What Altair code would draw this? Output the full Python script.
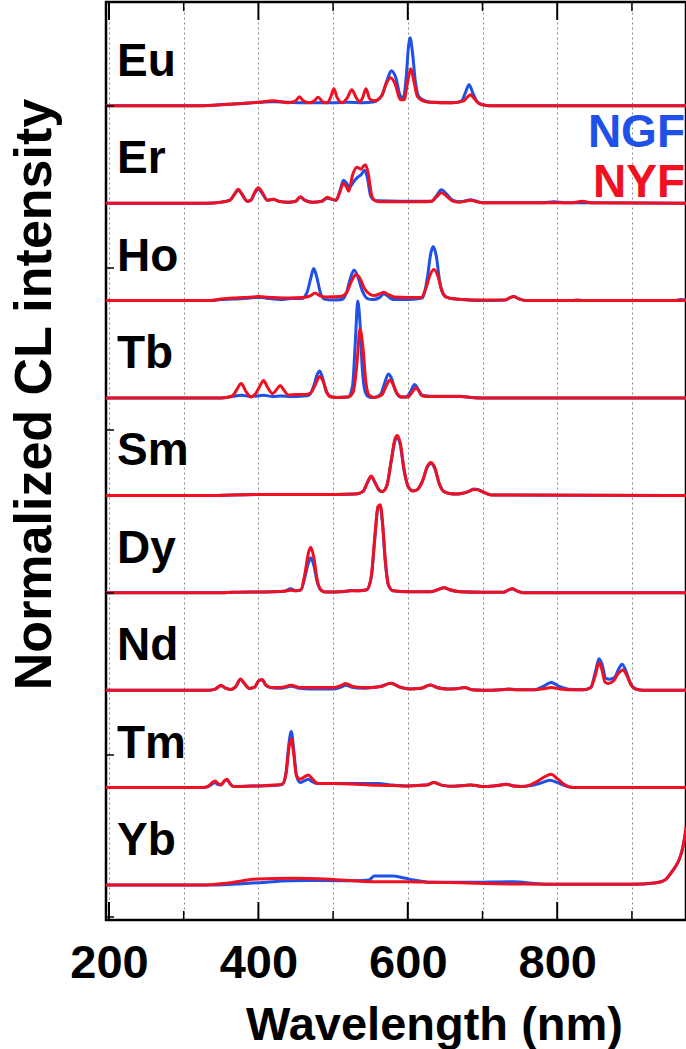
import altair as alt
import pandas as pd

ELEMENTS = ["Eu", "Er", "Ho", "Tb", "Sm", "Dy", "Nd", "Tm", "Yb"]
SERIES = ["NGF", "NYF"]
X_GRID = [200, 300, 400, 500, 600, 700, 800, 900]
X_TICKS_MAJOR = [200, 400, 600, 800]
X_TICKS_MINOR = [300, 500, 700, 900]
Y_TICKS = [779, 617, 455, 292, 130, -32]
OFFSET_STEP = 97.4

EU_NGF = [(196,0),(320,0),(360,1.5),(400,3.5),(420,4),(440,3.5),(460,3),(500,3),(520,3.5),(540,3),(555,4),(565,10),(572,25),(578,35),(584,28),(590,10),(594,8),(598,30),(601,60),(603,68),(606,55),(610,25),(614,10),(620,6),(630,3.5),(660,3),(672,5),(677,13),(682,21),(687,13),(692,5),(700,1),(710,0),(972.4,0)]
EU_NYF = [(196,0),(320,0),(360,1.5),(400,3.5),(420,5),(440,3),(450,5),(455,9),(460,5),(468,3),(475,5),(480,8.5),(486,4),(492,3),(497,9),(501,17),(505,9),(512,3),(519,8),(525,16),(531,8),(536,4),(540,9),(544,17),(549,7),(555,5),(565,10),(571,22),(577,28),(583,22),(590,6),(595,6),(600,25),(604,37),(608,25),(613,9),(620,5),(630,3.5),(660,3),(675,5),(680,9),(684,11),(688,8),(694,3),(700,1),(710,0),(972.4,0)]

ER_NGF = [(196,0),(330,0),(350,1),(362,3),(368,9),(373,13),(378,9),(385,2),(390,3),(395,10),(400,14),(405,10),(412,3),(420,4),(427,2),(440,1),(450,2),(456,6),(462,3),(472,1),(485,2),(492,5),(498,4),(504,3),(509,12),(514,23),(518,20),(522,16),(528,22),(533,26),(538,29),(542,33),(546,25),(550,8),(554,3.5),(560,2.5),(620,2),(632,2),(638,7),(645,13.5),(652,9),(660,3),(668,1.5),(676,2),(684,3.5),(692,2),(700,0.5),(780,0.5),(796,1.5),(810,0.5),(972.4,0)]
ER_NYF = [(196,0),(330,0),(350,1),(362,3),(368,9),(373,14),(378,9),(385,2),(390,3),(395,11),(400,15.5),(405,11),(412,3),(420,4),(427,2),(440,1),(450,2),(456,6.5),(462,3),(472,1),(485,2),(492,6),(498,4),(504,3),(509,11),(514,20),(518,16),(521,12),(526,28),(532,36),(537,34),(543,38.5),(547,30),(551,10),(555,3),(560,1.5),(620,1.5),(632,2),(638,6),(645,10.5),(652,7),(660,2),(668,1),(676,2),(685,3),(692,1.5),(700,0.5),(780,0.5),(820,0.5),(834,2),(845,0.5),(972.4,0)]

HO_NGF = [(196,0),(335,0),(350,1),(365,1.5),(380,2),(395,3),(405,3),(415,2),(430,1),(445,2),(458,2),(465,8),(470,22),(474,32),(478,24),(483,8),(488,1.5),(500,0.5),(512,1),(518,8),(523,22),(528,30.5),(533,24),(539,10),(546,2),(553,1),(562,3),(568,6.5),(574,4),(580,1),(600,1),(615,2),(620,3),(626,22),(631,48),(634,54),(638,45),(643,18),(648,6),(655,2.5),(665,1.5),(680,0.5),(700,0),(730,0.5),(737,3),(742,4),(748,2),(758,0),(820,0),(827,0.7),(835,0),(955,0),(965,1),(972.4,0.5)]
HO_NYF = [(196,0),(335,0),(350,1.5),(365,2.5),(380,3),(400,4),(420,3),(440,2.5),(460,3),(470,5),(476,7.5),(482,5),(490,3.5),(510,4),(518,8),(525,20),(531,26),(536,22),(542,12),(550,6),(556,5),(563,7),(568,8.3),(574,6),(582,3.5),(600,3),(618,3),(624,12),(630,26),(635,31),(640,25),(645,11),(650,4),(660,2),(675,1),(690,0.5),(730,0.5),(737,3),(742,4),(748,2),(758,0),(972.4,0)]

TB_NGF = [(196,0),(350,0),(365,1.5),(377,2.7),(390,1.5),(407,2.7),(419,1.5),(430,2),(444,1.5),(460,2),(468,3),(474,12),(479,24),(482,27),(486,20),(491,6),(497,1.5),(505,0.5),(520,1),(526,12),(530,60),(533,97),(536,75),(539,30),(543,6),(548,1),(555,0.5),(563,3),(569,15),(574,24),(578,20),(583,8),(590,1),(598,1),(604,7),(609,13.5),(613,10),(618,3),(625,2),(640,1.7),(670,1.7),(685,0.5),(700,0),(972.4,0)]
TB_NYF = [(196,0),(350,0),(365,2),(370,7),(377,14.4),(383,7),(390,1),(396,4),(402,12),(407,17.5),(412,11),(419,4.5),(425,9),(429,12.5),(434,8),(440,3),(450,3.5),(462,3.5),(470,5),(476,13),(482,21.5),(487,16),(492,5),(497,1),(505,0.5),(520,1),(527,6),(532,35),(536,69),(540,50),(544,15),(548,3),(555,0.5),(565,3),(571,12),(576,18),(580,14),(586,4),(592,1),(600,1),(606,6),(611,10),(615,7),(620,2),(630,1.5),(670,1.5),(685,0.5),(700,0),(972.4,0)]

SM_NGF = [(196,0),(330,0),(400,1),(480,1),(530,1.5),(540,4),(546,13),(551,19),(556,13),(562,5),(566,4),(572,10),(578,35),(583,55),(586,58),(590,50),(595,25),(601,8),(607,4.5),(613,6),(620,15),(626,28),(631,32),(636,27),(642,12),(648,4),(656,2),(664,1.5),(672,2),(682,4),(688,6.5),(694,6),(702,3),(712,0.5),(972.4,0)]
SM_NYF = [(196,0),(330,0),(400,1),(480,1),(530,1.5),(540,4),(546,13),(551,19.5),(556,13),(562,5),(566,4),(572,10),(578,36),(583,57),(586,60),(590,52),(595,26),(601,8),(607,4.5),(613,6),(620,15),(626,29),(631,33),(636,28),(642,12),(648,4),(656,2),(664,1.5),(672,2),(682,4),(688,6),(694,5.5),(702,3),(712,0.5),(972.4,0)]

DY_NGF = [(196,0),(350,0),(365,0.5),(420,1),(435,1.5),(443,4),(450,2),(457,3),(462,15),(467,30),(470,35),(474,28),(479,10),(485,2),(490,0.7),(510,1),(525,2.3),(535,2),(545,3),(551,15),(556,55),(560,85),(563,87),(566,70),(570,30),(574,8),(580,2),(600,1),(630,1),(640,3),(649,5),(656,3),(670,1),(700,0.5),(728,0.5),(735,3),(740,4),(746,2),(755,0),(972.4,0)]
DY_NYF = [(196,0),(350,0),(365,0.5),(420,1),(435,1.5),(443,2.5),(450,2),(457,3),(462,18),(467,40),(470,45.6),(474,36),(479,12),(485,2),(490,0.7),(510,1),(525,2),(535,2),(545,3),(551,16),(556,58),(560,86),(563,88),(566,72),(570,32),(574,8),(580,2),(600,1),(630,1),(640,3),(649,5),(656,3),(670,1),(700,0.5),(728,0.5),(735,3),(740,4),(746,2),(755,0),(972.4,0)]

ND_NGF = [(196,0),(335,0),(342,1),(350,4.5),(356,2),(363,0.7),(370,4),(376,11),(381,7),(388,1.7),(395,3),(400,9),(405,10.5),(410,5),(417,2.5),(430,2),(444,4),(455,2),(470,1.3),(500,1.3),(510,3),(517,5),(525,3),(540,2),(552,2.7),(565,4),(577,7),(590,3),(602,1.3),(618,2),(630,5.3),(640,2.5),(653,1.3),(665,1.5),(676,2.7),(686,0.5),(700,0),(725,0.5),(735,1.2),(745,0.5),(770,0.5),(782,4),(792,7.7),(802,4),(815,1),(835,0.5),(845,3),(851,18),(856,31.5),(860,26),(865,12),(870,11),(877,13),(882,21),(887,26),(892,19),(898,7),(906,1),(915,0),(972.4,0)]
ND_NYF = [(196,0),(335,0),(342,1),(350,5),(356,2),(363,0.7),(370,4),(376,11.3),(381,7),(388,1.7),(395,3),(400,9),(405,10.7),(410,5),(417,2.7),(430,2.7),(444,5),(455,2.7),(470,2.7),(500,2.7),(510,4.5),(517,6.7),(525,4),(540,2.7),(552,2.7),(565,4),(577,7),(590,3),(602,1.3),(618,2),(630,5.3),(640,2.5),(653,1.3),(665,1.5),(676,2.7),(686,0.5),(700,0),(725,0.5),(735,1),(745,0.5),(770,0.5),(782,1.5),(792,2.7),(802,1.5),(815,0.5),(835,0.5),(845,2.5),(851,15),(856,27.7),(860,20),(864,8),(868,6.7),(875,9),(881,16),(888,20.3),(893,15),(899,5),(906,1),(915,0),(972.4,0)]

TM_NGF = [(196,0),(325,0),(333,1),(338,3.5),(342,5),(346,3),(350,2.7),(354,6),(358,7.5),(362,4),(367,1),(390,1.5),(420,2),(432,3),(437,15),(441,45),(444,56),(447,40),(451,12),(456,5),(462,7),(467,8.4),(472,6),(480,4),(500,4),(540,4),(560,4),(580,2.5),(600,1.7),(625,2.5),(635,5),(645,2.5),(662,1.3),(675,2),(685,2.7),(695,1.5),(703,1),(720,2),(732,3.3),(742,1.5),(752,1),(765,2),(778,4.5),(790,7.4),(800,5),(812,1.5),(822,0),(972.4,0)]
TM_NYF = [(196,0),(325,0),(333,1.5),(338,5),(342,6.7),(346,4),(350,2.7),(354,6.5),(358,8.3),(362,4),(367,1),(390,1.5),(420,2.5),(432,3.5),(437,14),(441,40),(444,49),(447,35),(451,12),(456,8.4),(462,11),(467,12.7),(472,9),(480,4),(500,4),(540,3),(560,2.3),(580,2),(600,1.7),(625,2.5),(635,5),(645,2.5),(662,1.3),(675,2),(685,2.7),(695,1.5),(703,1),(720,2),(732,3.3),(742,1.5),(752,1),(765,3),(775,7),(786,12),(792,13.4),(800,9),(812,2),(822,0),(972.4,0)]

YB_NGF = [(196,0),(330,0),(360,0.5),(400,2.3),(444,4.3),(480,4.5),(533,4.3),(548,5),(555,9),(565,9),(580,9),(595,7),(608,5),(631,2.7),(680,2.7),(742,3.3),(770,1.5),(790,0.7),(900,0.7),(930,2),(940,3.5),(946,6),(952,11.7),(958,18),(963,25),(967,34),(970,45),(972.4,55)]
YB_NYF = [(196,0),(330,0),(360,2),(399,6),(444,6.7),(500,5.5),(555,3.3),(600,3.3),(631,2.7),(680,2),(742,1),(790,0.7),(900,0.7),(930,2),(940,3.5),(946,6),(952,11.7),(958,18),(963,25),(967,34),(970,45),(972.4,58)]

SPECTRA = {
    ("Eu", "NGF"): EU_NGF, ("Eu", "NYF"): EU_NYF,
    ("Er", "NGF"): ER_NGF, ("Er", "NYF"): ER_NYF,
    ("Ho", "NGF"): HO_NGF, ("Ho", "NYF"): HO_NYF,
    ("Tb", "NGF"): TB_NGF, ("Tb", "NYF"): TB_NYF,
    ("Sm", "NGF"): SM_NGF, ("Sm", "NYF"): SM_NYF,
    ("Dy", "NGF"): DY_NGF, ("Dy", "NYF"): DY_NYF,
    ("Nd", "NGF"): ND_NGF, ("Nd", "NYF"): ND_NYF,
    ("Tm", "NGF"): TM_NGF, ("Tm", "NYF"): TM_NYF,
    ("Yb", "NGF"): YB_NGF, ("Yb", "NYF"): YB_NYF,
}

BLUE = "#1f50e8"
RED = "#f01020"
FONT = "Liberation Sans"

rows = []
label_rows = []
n = len(ELEMENTS)
for i, el in enumerate(ELEMENTS):
    off = (n - 1 - i) * OFFSET_STEP
    label_rows.append({"element": el, "offset": off})
    for s in SERIES:
        for k, (nm, v) in enumerate(SPECTRA[(el, s)]):
            rows.append({"element": el, "series": s, "nm": nm, "val": v, "offset": off, "order": k})
df = pd.DataFrame(rows)
labels_df = pd.DataFrame(label_rows)

W, H = 580, 918
xscale = alt.Scale(domain=[196, 972.4], nice=False, zero=False)
yscale = alt.Scale(domain=[-35, 883], nice=False, zero=False)

x_axis = alt.Axis(
    values=X_GRID, grid=True, gridColor="#8a8a8a", gridDash=[2, 3], gridWidth=1,
    ticks=False, tickSize=0, domain=False,
    labelExpr="datum.value % 200 == 0 ? datum.label : ''",
    labelFont=FONT, labelFontSize=47, labelFontWeight="bold", labelColor="black",
    labelPadding=20, labelFlush=False, labelOverlap=False,
    title="Wavelength (nm)", titleFont=FONT, titleFontSize=47, titleFontWeight="bold",
    titleColor="black", titleX=328, titleY=119, titleBaseline="alphabetic", titleAlign="center",
)
y_axis = alt.Axis(
    ticks=False, labels=False, grid=False, domain=False,
    title="Normalized CL intensity", titleFont=FONT, titleFontSize=52, titleFontWeight="bold",
    titleColor="black", titleAngle=270, titleX=-56, titleY=392, titleBaseline="alphabetic",
    titleAlign="center",
)


def X(field):
    return alt.X(field, scale=xscale, axis=x_axis)


def Y(field):
    return alt.Y(field, scale=yscale, axis=y_axis)


base = alt.Chart(df).transform_calculate(y="datum.val + datum.offset")

blue = base.transform_filter(alt.datum.series == "NGF").mark_line(
    color=BLUE, strokeWidth=3, interpolate="monotone", clip=True
).encode(x=X("nm:Q"), y=Y("y:Q"), detail="element:N", order="order:Q")
red = base.transform_filter(alt.datum.series == "NYF").mark_line(
    color=RED, strokeWidth=3, interpolate="monotone", clip=True
).encode(x=X("nm:Q"), y=Y("y:Q"), detail="element:N", order="order:Q")

labels = alt.Chart(labels_df).mark_text(
    font=FONT, fontSize=46, fontWeight="bold", align="left", baseline="alphabetic",
    dy=-30, color="black",
).encode(x=alt.value(11), y=Y("offset:Q"), text="element:N")

legend_ngf = alt.Chart(pd.DataFrame({"name": [SERIES[0]]})).mark_text(
    font=FONT, fontSize=46, fontWeight="bold", align="right", baseline="alphabetic", color=BLUE
).encode(x=alt.value(579), y=alt.value(145), text="name:N")
legend_nyf = alt.Chart(pd.DataFrame({"name": [SERIES[1]]})).mark_text(
    font=FONT, fontSize=46, fontWeight="bold", align="right", baseline="alphabetic", color=RED
).encode(x=alt.value(579), y=alt.value(195), text="name:N")

major_df = pd.DataFrame({"nm": X_TICKS_MAJOR})
minor_df = pd.DataFrame({"nm": X_TICKS_MINOR})
tick_bot_major = alt.Chart(major_df).mark_rule(color="black", strokeWidth=2).encode(
    x=X("nm:Q"), y=alt.value(H - 18), y2=alt.value(H))
tick_bot_minor = alt.Chart(minor_df).mark_rule(color="black", strokeWidth=1.5).encode(
    x=X("nm:Q"), y=alt.value(H - 9), y2=alt.value(H))
tick_top_major = alt.Chart(major_df).mark_rule(color="black", strokeWidth=2).encode(
    x=X("nm:Q"), y=alt.value(0), y2=alt.value(18))
tick_top_minor = alt.Chart(minor_df).mark_rule(color="black", strokeWidth=1.5).encode(
    x=X("nm:Q"), y=alt.value(0), y2=alt.value(9))
tick_left = alt.Chart(pd.DataFrame({"t": Y_TICKS})).mark_rule(color="black", strokeWidth=1.5).encode(
    y=Y("t:Q"), x=alt.value(0), x2=alt.value(8))

chart = alt.layer(
    blue, red, labels, legend_ngf, legend_nyf,
    tick_bot_major, tick_bot_minor, tick_top_major, tick_top_minor, tick_left,
).properties(
    width=W, height=H,
    autosize=alt.AutoSizeParams(type="none"),
    padding={"left": 106, "top": 2, "right": 0, "bottom": 129},
    background="white",
).configure_view(stroke="black", strokeWidth=2.5)

chart.save("out.html", embed_options={"renderer": "svg", "actions": False})
